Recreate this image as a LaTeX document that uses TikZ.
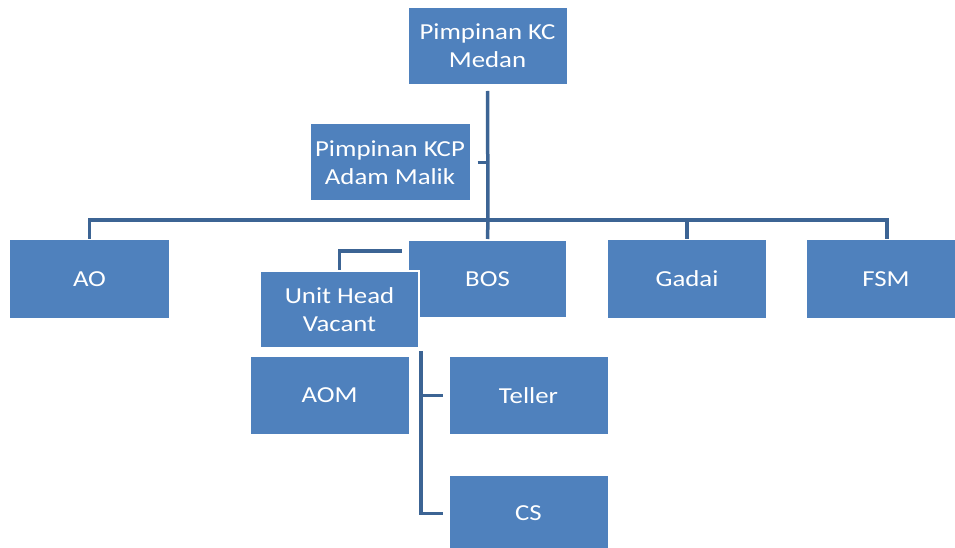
\documentclass[tikz,border=0pt]{standalone}
\usepackage{fontspec}
\setmainfont[FakeStretch=1.17]{Carlito}
\definecolor{boxblue}{RGB}{79,129,189}
\definecolor{linkblue}{RGB}{60,100,148}
\begin{document}
\begin{tikzpicture}[x=1bp,y=-1bp,
  orgbox/.style={rectangle, fill=boxblue, draw=white, line width=1bp, text=white,
    minimum width=159bp, minimum height=77bp, inner sep=0pt, align=center,
    font=\fontsize{23}{28}\selectfont},
  link/.style={draw=linkblue, line width=3.5bp}]
\useasboundingbox (0,0) rectangle (955,548);
\fill[white] (0,0) rectangle (955,548);

\node[orgbox] (kc) at (487.5,46) {Pimpinan KC\\Medan};
\node[orgbox, minimum width=160bp] (kcp) at (390,162.5) {Pimpinan KCP\\Adam Malik};
\node[orgbox, minimum height=78bp] (ao) at (89.5,279) {AO};
\node[orgbox, minimum height=78bp, line width=2bp] (bos) at (487.5,279) {BOS};
\node[orgbox, minimum height=78bp] (gadai) at (687,279) {Gadai};
\node[orgbox, minimum height=78bp] (fsm) at (886,279) {FSM};
\node[orgbox] (aom) at (329.5,395.5) {AOM};
\node[orgbox] (teller) at (528.5,395.5) {Teller};
\node[orgbox] (cs) at (528.5,513.5) {CS};
\node[orgbox, line width=2bp] (uh) at (339.5,309.5) {Unit Head\\Vacant};

\coordinate (hub) at (488,220);
\coordinate (uhs) at (421,351);

\draw[link] ([yshift=-6bp]kc.south) -- (hub);
\draw[link] ([xshift=7bp]kcp.east) -- (kcp.east -| hub);
\draw[link] (hub) -| (ao.north);
\draw[link] (hub) -| (gadai.north);
\draw[link] (hub) -| ([xshift=1bp]fsm.north);
\draw[link] (hub) -- (bos.north);
\draw[link] ([xshift=-5bp,yshift=-12bp]bos.north west) -| (uh.north);
\draw[link] (uhs) |- ([xshift=-6bp]teller.west);
\draw[link] (uhs) |- ([xshift=-6bp]cs.west);
\end{tikzpicture}
\end{document}
